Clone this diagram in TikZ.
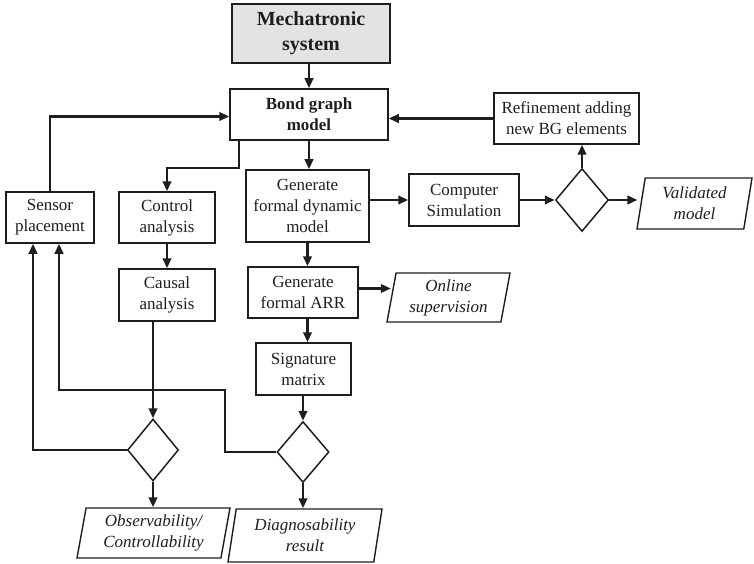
\documentclass[tikz,border=0pt]{standalone}
\usepackage{fontspec}
\setmainfont{Liberation Serif}
\usetikzlibrary{shapes.geometric,arrows.meta}
\definecolor{ink}{HTML}{1E1E1E}
\begin{document}
\begin{tikzpicture}[x=1pt,y=-1pt,
  box/.style={draw=ink, line width=1.5pt, rectangle, inner sep=0pt, align=center,
    text=ink, font=\fontsize{17}{21}\selectfont},
  dec/.style={diamond, draw=ink, line width=1.5pt, inner sep=0pt},
  io/.style={trapezium, trapezium left angle=76, trapezium right angle=104,
    trapezium stretches body, draw=ink, line width=1.4pt, inner sep=0pt, align=center,
    text=ink, font=\itshape\fontsize{17}{21}\selectfont},
  arr/.style={draw=ink, line width=2.4pt, -{Triangle[length=10pt,width=8.5pt]}},
  ln/.style={draw=ink, line width=2.4pt}]
\useasboundingbox (0,0) rectangle (754,564);

\node[box, fill=gray!22, minimum width=158, minimum height=59,
  font=\bfseries\fontsize{20}{25}\selectfont] (mech) at (311,33.5) {Mechatronic\\system};
\node[box, minimum width=158, minimum height=51,
  font=\bfseries\fontsize{17}{21}\selectfont] (bg) at (309,114.5) {Bond graph\\model};
\node[box, minimum width=123, minimum height=72] (gfdm) at (307.5,206) {Generate\\formal dynamic\\model};
\node[box, minimum width=88, minimum height=51] (sensor) at (50,217.5) {Sensor\\placement};
\node[box, minimum width=96, minimum height=51] (ctrl) at (167,217.5) {Control\\analysis};
\node[box, minimum width=96, minimum height=52] (causal) at (167,295) {Causal\\analysis};
\node[box, minimum width=110, minimum height=51] (arrn) at (303,292.5) {Generate\\formal ARR};
\node[box, minimum width=95, minimum height=52] (sig) at (303.5,369) {Signature\\matrix};
\node[box, minimum width=110, minimum height=52] (sim) at (464,200) {Computer\\Simulation};
\node[box, minimum width=145, minimum height=51] (ref) at (566.5,118.5) {Refinement adding\\new BG elements};

\node[dec, minimum width=51, minimum height=62] (d1) at (153,450) {};
\node[dec, minimum width=52, minimum height=61] (d2) at (303,452) {};
\node[dec, minimum width=53, minimum height=63] (d3) at (582,200) {};

\node[io, minimum width=153, minimum height=50] (obs) at (153.5,533) {Observability/\\Controllability};
\node[io, minimum width=154, minimum height=53] (diag) at (305,535.5) {Diagnosability\\result};
\node[io, minimum width=123, minimum height=49] (online) at (448.5,297.5) {Online\\supervision};
\node[io, minimum width=115, minimum height=51] (valid) at (694.5,203.5) {Validated\\model};

% connectors
\draw[arr] (bg.north |- mech.south) -- (bg.north);
\draw[arr] (sensor.north) |- ([yshift=-2pt]bg.west);
\draw[arr] ([xshift=-70pt]bg.south) -- ++(0,27) -| (ctrl.north);
\draw[arr] (bg.south) -- (bg.south |- gfdm.north);
\draw[arr] (ctrl.south) -- (causal.north);
\draw[arr] (gfdm.south) -- (gfdm.south |- arrn.north);
\draw[arr] (gfdm.south |- arrn.south) -- (gfdm.south |- sig.north);
\draw[arr] (d2.north |- sig.south) -- (d2.north);
\draw[arr] (d2.south) -- (d2.south |- diag.north);
\draw[arr] (d2.west) -- ++(-51,0) |- ++(0,-62) -| ([xshift=9pt]sensor.south);
\draw[arr] (d1.west) -| ([xshift=-17pt]sensor.south);
\draw[arr] (d1.north |- causal.south) -- (d1.north);
\draw[arr] (d1.south) -- (d1.south |- obs.north);
\draw[arr] (sim.west -| gfdm.east) -- (sim.west);
\draw[arr] (sim.east) -- (d3.west);
\draw[arr] (d3.north) -- (d3.north |- ref.south);
\draw[arr] (ref.west) -- (ref.west -| bg.east);
\draw[arr] (d3.east) -- ([xshift=-3pt]d3.east -| valid.west);
\draw[arr] ([yshift=4pt]arrn.east) -- ([yshift=4pt]arrn.east -| online.west);
\end{tikzpicture}
\end{document}
